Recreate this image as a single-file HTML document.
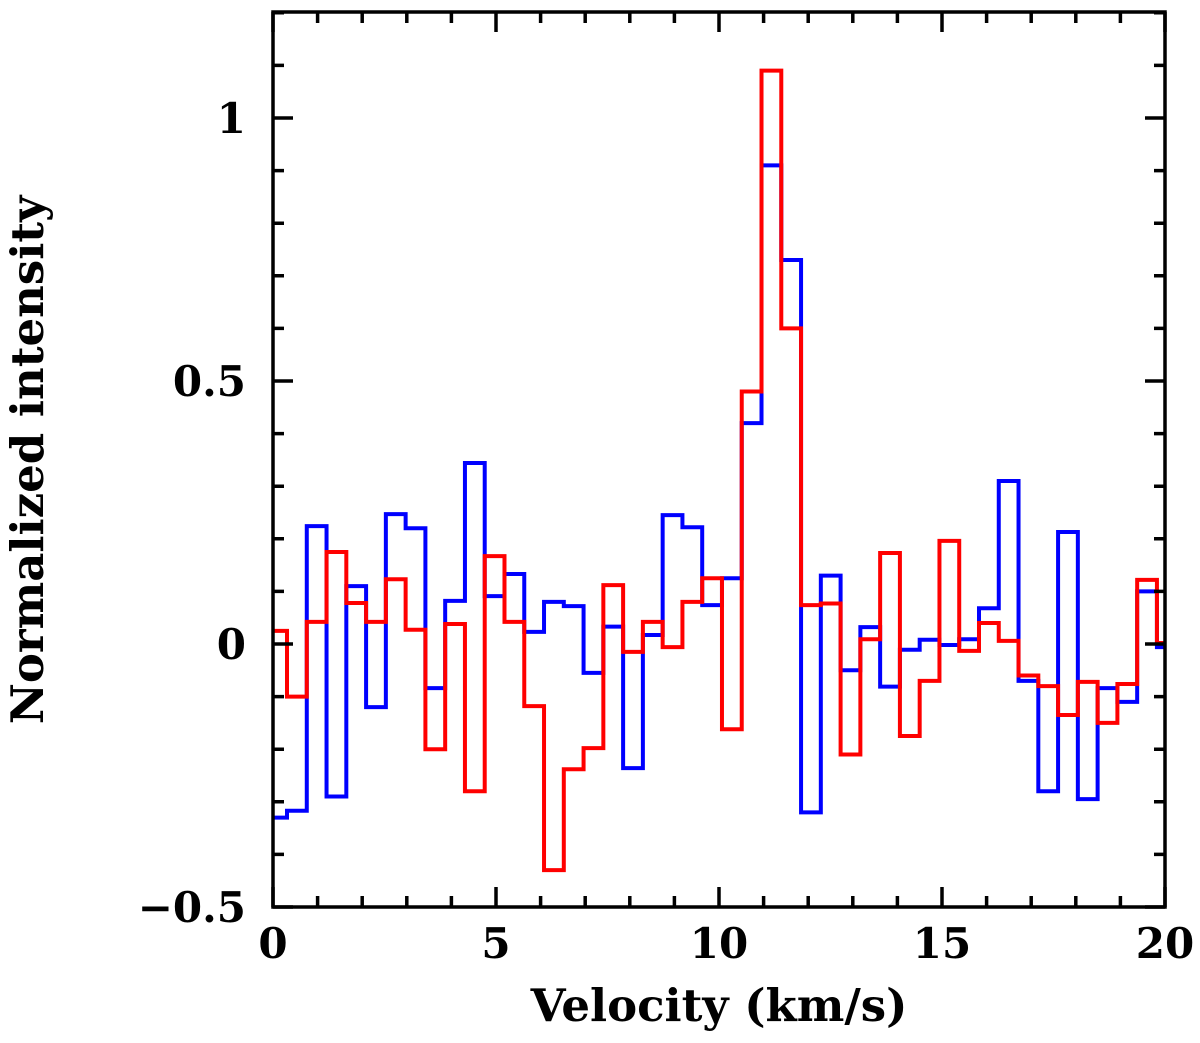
<!DOCTYPE html>
<html><head><meta charset="utf-8"><style>
html,body{margin:0;padding:0;background:#fff;}
svg text{font-family:"DejaVu Serif","Liberation Serif",serif;font-weight:bold;fill:#000;}
</style></head><body>
<svg id="chart" width="1200" height="1038" viewBox="0 0 1200 1038" xmlns="http://www.w3.org/2000/svg">
<defs><clipPath id="clip"><rect x="273" y="12" width="892" height="895"/></clipPath></defs>
<g id="series" clip-path="url(#clip)"></g>
<g id="axes"></g>
</svg>
<script>
const binStart = 0.314;
const binWidth = 0.4433;
const blueValues = [-0.33,-0.317,0.224,-0.29,0.11,-0.12,0.247,0.22,-0.084,0.082,0.344,0.091,0.133,0.023,0.08,0.072,-0.055,0.033,-0.236,0.017,0.245,0.222,0.074,0.125,0.42,0.91,0.73,-0.32,0.13,-0.05,0.032,-0.081,-0.011,0.008,-0.002,0.009,0.068,0.31,-0.07,-0.28,0.213,-0.295,-0.084,-0.11,0.1,-0.006];
const redValues = [0.025,-0.1,0.042,0.175,0.078,0.042,0.123,0.027,-0.2,0.038,-0.28,0.167,0.042,-0.118,-0.43,-0.238,-0.198,0.112,-0.015,0.042,-0.006,0.08,0.125,-0.162,0.48,1.09,0.6,0.074,0.077,-0.21,0.009,0.173,-0.175,-0.07,0.196,-0.013,0.04,0.006,-0.06,-0.08,-0.135,-0.072,-0.15,-0.076,0.122,0.002];
const xTicks = [0,5,10,15,20];
const yTicks = [-0.5,0,0.5,1];
const xTickLabels = ["0","5","10","15","20"];
const yTickLabels = ["\u22120.5","0","0.5","1"];

const X0=273,X1=1165,Y0=907,Y1=12;
const xMin=0,xMax=20;
function sx(v){return X0+(v-xMin)/(xMax-xMin)*(X1-X0);}
function sy(v){return 644-(v)*526;}
const NS="http://www.w3.org/2000/svg";
function mk(tag,attrs,parent){const e=document.createElementNS(NS,tag);for(const k in attrs)e.setAttribute(k,attrs[k]);parent.appendChild(e);return e;}
const series=document.getElementById('series'), axes=document.getElementById('axes');

function stepPath(vals){
  let d="";
  vals.forEach((v,i)=>{
    const a=sx(binStart+(i-1)*binWidth), b=sx(binStart+i*binWidth), y=sy(v);
    d += (i===0?"M":"L")+a+","+y+" L"+b+","+y+" ";
  });
  return d;
}
const pb=mk('path',{d:stepPath(blueValues),fill:'none',stroke:'#0000ff','stroke-width':4},series);


const pr=mk('path',{d:stepPath(redValues),fill:'none',stroke:'#ff0000','stroke-width':4},series);



const frame=mk('rect',{x:X0,y:Y1,width:X1-X0,height:Y0-Y1,fill:'none',stroke:'#000','stroke-width':3.5},axes);



for(let v=0;v<=20;v++){
  const x=sx(v), L=(v%5===0)?20:11;
  const t=mk('path',{d:`M${x},${Y0}V${Y0-L}M${x},${Y1}V${Y1+L}`,stroke:'#000','stroke-width':3.5},axes);
  
  
}
for(let k=-5;k<=12;k++){
  const v=k/10, y=sy(v), L=(k%5===0)?20:11;
  const t=mk('path',{d:`M${X0},${y}H${X0+L}M${X1},${y}H${X1-L}`,stroke:'#000','stroke-width':3.5},axes);
  
  
}
xTicks.forEach((v,i)=>{
  const t=mk('text',{x:sx(v),y:958,'font-size':42,'text-anchor':'middle'},axes);
  t.textContent=xTickLabels[i];
  
  
});
yTicks.forEach((v,i)=>{
  const t=mk('text',{x:246,y:sy(v)+15,'font-size':42,'text-anchor':'end'},axes);
  t.textContent=yTickLabels[i];
  
  
});
const xt=mk('text',{x:719,y:1021,'font-size':45,'text-anchor':'middle'},axes);
xt.textContent="Velocity (km/s)";


const yt=mk('text',{x:0,y:0,'font-size':45,'text-anchor':'middle',transform:'translate(43,460) rotate(-90)'},axes);
yt.textContent="Normalized intensity";


</script>
</body></html>
